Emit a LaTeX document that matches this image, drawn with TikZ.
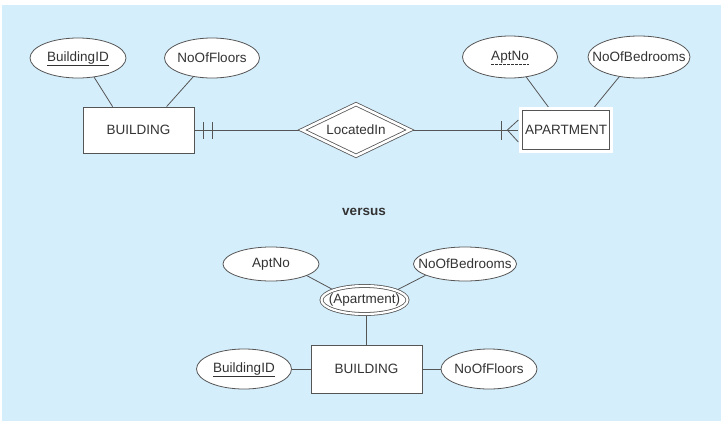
\documentclass[tikz,border=0pt]{standalone}
\usepackage{fontspec}
\setmainfont{Liberation Sans}
\usetikzlibrary{shapes.geometric,calc}
\definecolor{bgblue}{HTML}{D5EEFC}
\definecolor{ln}{HTML}{555555}
\definecolor{tx}{HTML}{333333}
\pgfdeclarelayer{bglayer}
\pgfdeclarelayer{edges}
\pgfsetlayers{bglayer,edges,main}
\newcommand\zw[1]{\makebox[0pt]{#1}}
\begin{document}
\begin{tikzpicture}[x=1pt,y=-1pt,
  every node/.style={font=\fontsize{13.5}{16}\selectfont, text=tx, inner sep=0pt},
  attr/.style={ellipse, draw=ln, fill=white, line width=0.8pt},
  ent/.style={rectangle, draw=ln, fill=white, line width=0.8pt},
  wkent/.style={rectangle, draw=ln, fill=white, line width=0.8pt, double=white, double distance=2.6pt},
  wkrel/.style={diamond, draw=ln, fill=white, line width=0.8pt, double=white, double distance=2.6pt, aspect=2},
  mvattr/.style={ellipse, draw=ln, fill=white, line width=0.8pt, double=white, double distance=2.2pt},
  conn/.style={draw=ln, line width=0.8pt},
  keyline/.style={draw=tx, line width=0.9pt}
]
\useasboundingbox (0,0) rectangle (723,426);
\begin{pgfonlayer}{bglayer}
  \fill[bgblue] (2,5) rectangle (721,421);
\end{pgfonlayer}

% ---- top diagram ----
\node[attr, minimum width=96, minimum height=40] (bid1) at (78,58) {\zw{BuildingID}};
\node[attr, minimum width=95, minimum height=40] (nof1) at (212,58) {\zw{NoOfFloors}};
\node[ent, minimum width=111, minimum height=46] (b1) at (138.5,130) {BUILDING};
\node[wkrel, minimum width=108, minimum height=52] (rel) at (356,130) {\zw{LocatedIn}};
\node[wkent, minimum width=90.5, minimum height=42.5] (apt) at (566,130) {\zw{APARTMENT}};
\node[attr, minimum width=95, minimum height=42] (aptno1) at (510,57) {\zw{AptNo}};
\node[attr, minimum width=102, minimum height=42] (nob1) at (639,57) {\zw{NoOfBedrooms}};

\node[font=\bfseries\fontsize{13.5}{16}\selectfont] (vs) at (364,212) {versus};

% ---- bottom diagram ----
\node[attr, minimum width=96, minimum height=34] (aptno2) at (271,264) {\zw{AptNo}};
\node[attr, minimum width=103, minimum height=34] (nob2) at (465,264) {\zw{NoOfBedrooms}};
\node[mvattr, minimum width=86, minimum height=28] (aptm) at (364.5,300) {\zw{(Apartment)}};
\node[ent, minimum width=111, minimum height=48] (b2) at (366.5,369) {BUILDING};
\node[attr, minimum width=95, minimum height=40] (bid2) at (244,369) {\zw{BuildingID}};
\node[attr, minimum width=96, minimum height=40] (nof2) at (489,369) {\zw{NoOfFloors}};

% key underlines
\draw[keyline] ($(bid1.center)+(-31,7)$) -- ($(bid1.center)+(31,7)$);
\draw[keyline] ($(bid2.center)+(-31,7)$) -- ($(bid2.center)+(31,7)$);
\draw[keyline, dash pattern=on 2.5pt off 1.5pt] ($(aptno1.center)+(-19,7)$) -- ($(aptno1.center)+(19,7)$);

\begin{pgfonlayer}{edges}
  % top
  \draw[conn] (bid1.-50) -- ([xshift=30pt]b1.north west);
  \draw[conn] (nof1.-135) -- ([xshift=84pt]b1.north west);
  \draw[conn] (aptno1.-51) -- ([xshift=29pt]apt.north west);
  \draw[conn] (nob1.-135) -- ([xshift=73pt]apt.north west);
  \draw[conn] (b1.east) -- (rel.west);
  \draw[conn] (rel.east) -- ([xshift=-2pt]apt.west);
  % crow's foot marks
  \draw[conn] ($(b1.east)+(9,-8)$) -- ($(b1.east)+(9,9)$);
  \draw[conn] ($(b1.east)+(18,-8)$) -- ($(b1.east)+(18,9)$);
  \coordinate (cf) at ($(apt.west)+(-13,0)$);
  \draw[conn] ($(apt.west)+(-19,-9)$) -- ($(apt.west)+(-19,10)$);
  \draw[conn] ($(apt.west)+(-2,-10)$) -- (cf) -- ($(apt.west)+(-2,12)$);
  % bottom
  \draw[conn] (aptno2.-18) -- (aptm.162);
  \draw[conn] (nob2.-164) -- (aptm.17);
  \draw[conn] (b2.north) -- (b2.north |- aptm.south);
  \draw[conn] (bid2.east) -- (b2.west);
  \draw[conn] (b2.east) -- (nof2.west);
\end{pgfonlayer}
\end{tikzpicture}
\end{document}
